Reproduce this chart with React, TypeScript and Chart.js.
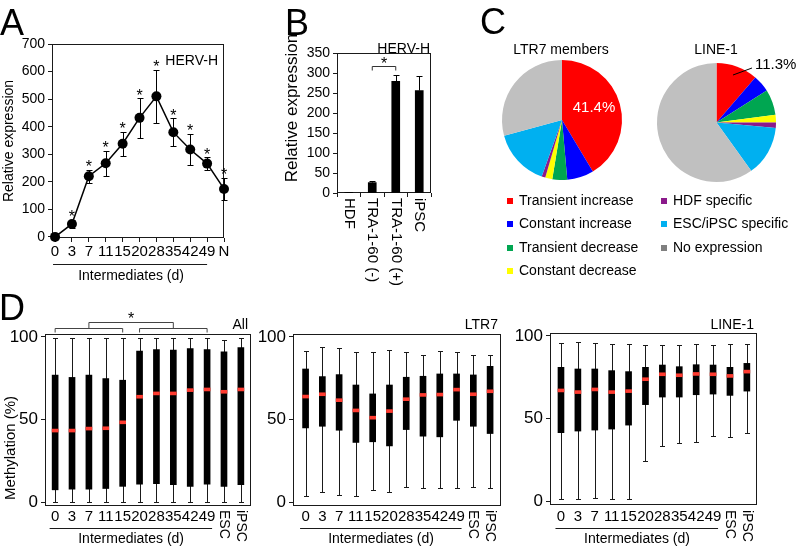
import React, { useEffect, useRef } from "react";
import { Chart, registerables } from "chart.js";

Chart.register(...registerables);

const FONT = "'Liberation Sans', Arial, Helvetica, sans-serif";
Chart.defaults.font.family = FONT;
Chart.defaults.color = "#000";

const W = 799;
const H = 549;
const INK = "#1a1a1a";

// ---------- Panel A: HERV-H over reprogramming ----------
const aLabels = ["0", "3", "7", "11", "15", "20", "28", "35", "42", "49", "N"];
const aValues = [0, 47, 220, 267, 338, 432, 510, 380, 317, 266, 174];
const aErrors = [0, 15, 24, 45, 44, 72, 96, 50, 57, 23, 40];
const aStars = [false, true, true, true, true, true, true, true, true, true, true];
const aYTicks = [0, 100, 200, 300, 400, 500, 600, 700];

// ---------- Panel B: sorted populations ----------
const bLabels = ["HDF", "TRA-1-60 (-)", "TRA-1-60 (+)", "iPSC"];
const bValues = [1, 26, 279, 256];
const bErrors = [0.5, 3, 17, 37];
const bYTicks = [0, 50, 100, 150, 200, 250, 300, 350];

// ---------- Panel C: pie charts ----------
const cCategories = [
  "Transient increase",
  "Constant increase",
  "Transient decrease",
  "Constant decrease",
  "HDF specific",
  "ESC/iPSC specific",
  "No expression",
];
const cColors = ["#ff0000", "#0000ff", "#00a651", "#ffff00", "#8b1a8b", "#00b0f0", "#c0c0c0"];
const cLegendColors = ["#ff0000", "#0000ff", "#00a651", "#ffff00", "#8b1a8b", "#00b0f0", "#808080"];
const ltr7Shares = [41.4, 7.2, 4.0, 1.9, 1.0, 15.3, 29.2];
const line1Shares = [11.3, 4.7, 6.9, 2.1, 1.5, 13.6, 59.9];

// ---------- Panel D: methylation box plots ----------
const dLabels = ["0", "3", "7", "11", "15", "20", "28", "35", "42", "49", "ESC", "iPSC"];
const dYTicks = [0, 50, 100];

const allMin = [0.3, 0.3, 0.3, 0.3, 0.3, 0.3, 0.3, 0.3, 0.3, 0.3, 0.3, 0.3];
const allQ1 = [7.4, 7.8, 7.8, 8.2, 9.5, 10.9, 11.1, 10.5, 9.5, 10.9, 9.5, 10.5];
const allMed = [43.3, 43.3, 44.5, 44.7, 48.3, 63.8, 65.8, 65.8, 67.8, 68.2, 66.8, 68.2];
const allQ3 = [76.9, 75.5, 76.9, 74.8, 73.8, 91.5, 92.4, 92.0, 93.0, 92.4, 91.0, 93.6];
const allMax = [99.4, 99.4, 99.4, 99.4, 99.4, 99.4, 99.4, 99.4, 99.4, 99.4, 98.4, 99.4];

const ltrMin = [3.8, 6.0, 4.4, 3.8, 7.0, 6.0, 9.0, 8.4, 8.4, 8.4, 9.4, 8.4];
const ltrQ1 = [44.9, 45.9, 43.5, 36.1, 36.5, 34.0, 43.9, 39.9, 39.5, 49.5, 45.9, 41.5];
const ltrMed = [63.9, 65.3, 61.7, 55.5, 51.1, 55.1, 62.3, 64.9, 65.1, 68.1, 65.3, 67.1];
const ltrQ3 = [80.6, 76.0, 77.2, 70.9, 65.5, 70.9, 75.6, 76.2, 77.6, 77.6, 77.0, 82.2];
const ltrMax = [91.6, 94.0, 93.6, 90.6, 90.6, 92.0, 91.0, 89.0, 91.6, 90.6, 89.0, 89.0];

const l1Min = [1.0, 1.4, 1.8, 1.4, 1.0, 24.0, 33.4, 35.4, 36.0, 39.4, 39.0, 41.0];
const l1Q1 = [41.4, 42.4, 43.0, 43.6, 46.0, 58.4, 63.0, 63.0, 64.4, 64.8, 64.0, 66.6];
const l1Med = [67.0, 66.0, 67.6, 66.0, 66.6, 73.8, 76.8, 76.2, 77.0, 76.8, 75.8, 78.4];
const l1Q3 = [81.0, 80.0, 80.0, 79.0, 78.4, 81.0, 82.4, 81.4, 82.6, 82.4, 81.0, 83.4];
const l1Max = [95.6, 96.4, 96.0, 95.0, 95.4, 94.6, 94.4, 94.6, 95.0, 94.6, 95.0, 95.4];

// ---------- helpers ----------
type Box = { L: number; T: number; R: number; B: number };
const pad = (b: Box, yW: number, xH: number) => ({
  left: b.L - yW,
  top: b.T,
  right: W - b.R,
  bottom: H - b.B - xH,
});
const snap = (v: number) => Math.round(v) + 0.5;

function text(ctx: any, s: string, x: number, y: number, size: number, o: any = {}) {
  ctx.save();
  ctx.font = `${size}px ${FONT}`;
  ctx.fillStyle = o.color ?? "#000";
  ctx.textAlign = o.align ?? "center";
  ctx.textBaseline = o.baseline ?? "middle";
  ctx.translate(x, y);
  if (o.rot) ctx.rotate(o.rot);
  ctx.fillText(s, 0, 0);
  ctx.restore();
}
function seg(ctx: any, pts: number[][], color = INK, w = 1) {
  ctx.save();
  ctx.strokeStyle = color;
  ctx.lineWidth = w;
  ctx.beginPath();
  pts.forEach(([x, y], i) => (i ? ctx.lineTo(x, y) : ctx.moveTo(x, y)));
  ctx.stroke();
  ctx.restore();
}
function frame(chart: any) {
  const { left, top, right, bottom } = chart.chartArea;
  const ctx = chart.ctx;
  ctx.save();
  ctx.strokeStyle = INK;
  ctx.lineWidth = 1;
  const l = Math.round(left), t = Math.round(top), r = Math.round(right), b = Math.round(bottom);
  ctx.strokeRect(l + 0.5, t + 0.5, r - l - 1, b - t - 1);
  ctx.restore();
}
const tickGrid = { display: true, drawOnChartArea: false, drawTicks: true, tickLength: 4, color: INK, lineWidth: 1 };
function yAxis(min: number, max: number, ticks: number[], size: number, yW: number) {
  return {
    type: "linear",
    min,
    max,
    afterBuildTicks: (s: any) => {
      s.ticks = ticks.map((v) => ({ value: v }));
    },
    afterFit: (s: any) => {
      s.width = yW;
    },
    grid: tickGrid,
    border: { display: false },
    ticks: { font: { size, family: FONT }, color: "#000", padding: 3 },
  };
}
const base = (padding: any) => ({
  responsive: false,
  maintainAspectRatio: false,
  animation: false,
  devicePixelRatio: 1,
  events: [],
  layout: { padding },
  plugins: { legend: { display: false }, tooltip: { enabled: false }, title: { display: false } },
});

// ---------- Panel A ----------
const A_BOX: Box = { L: 52, T: 44, R: 224, B: 238 };
function configA() {
  return {
    type: "line",
    data: {
      datasets: [
        {
          data: aValues.map((v, i) => ({ x: i, y: v })),
          borderColor: "#000",
          borderWidth: 1.5,
          pointRadius: 5,
          pointBackgroundColor: "#000",
          pointBorderColor: "#000",
          pointBorderWidth: 0,
          tension: 0,
          clip: false,
        },
      ],
    },
    options: {
      ...base(pad(A_BOX, 52, 30)),
      scales: {
        x: {
          type: "linear",
          min: -0.18,
          max: 10,
          offset: false,
          afterBuildTicks: (s: any) => {
            s.ticks = aLabels.map((_, i) => ({ value: i }));
          },
          afterFit: (s: any) => {
            s.height = 30;
          },
          grid: tickGrid,
          border: { display: false },
          ticks: {
            autoSkip: false,
            maxRotation: 0,
            minRotation: 0,
            padding: 1,
            font: { size: 15, family: FONT },
            color: "#000",
            callback: (v: any) => aLabels[v] ?? "",
          },
        },
        y: yAxis(-4, 700, aYTicks, 14, 52),
      },
    },
    plugins: [
      {
        id: "panelA",
        beforeDatasetsDraw(chart: any) {
          const { ctx } = chart;
          const x = chart.scales.x, y = chart.scales.y;
          frame(chart);
          aValues.forEach((v, i) => {
            const e = aErrors[i];
            if (!e) return;
            const px = snap(x.getPixelForValue(i));
            const t = snap(y.getPixelForValue(v + e)), b = snap(y.getPixelForValue(v - e));
            seg(ctx, [[px, t], [px, b]], "#000");
            seg(ctx, [[px - 3, t], [px + 3, t]], "#000");
            seg(ctx, [[px - 3, b], [px + 3, b]], "#000");
          });
        },
        afterDraw(chart: any) {
          const { ctx } = chart;
          const x = chart.scales.x, y = chart.scales.y;
          aValues.forEach((v, i) => {
            if (!aStars[i]) return;
            const t = y.getPixelForValue(v + aErrors[i]);
            text(ctx, "*", x.getPixelForValue(i), t + 2.5, 16, { baseline: "alphabetic" });
          });
          text(ctx, "HERV-H", 218, 61, 14, { align: "right" });
          const x0 = x.getPixelForValue(0), x9 = x.getPixelForValue(9);
          seg(ctx, [[x0 - 2, 264.5], [x9, 264.5]]);
          text(ctx, "Intermediates (d)", (x0 + x9) / 2, 276, 14);
          const ca = chart.chartArea;
          text(ctx, "Relative expression", 9, (ca.top + ca.bottom) / 2, 14, { rot: -Math.PI / 2 });
          text(ctx, "A", 0, 35, 36, { align: "left", baseline: "alphabetic" });
        },
      },
    ],
  };
}

// ---------- Panel B ----------
const B_BOX: Box = { L: 337, T: 53, R: 431, B: 193 };
function configB() {
  return {
    type: "bar",
    data: {
      labels: bLabels,
      datasets: [{ data: bValues, backgroundColor: "#000", barThickness: 8, borderWidth: 0 }],
    },
    options: {
      ...base(pad(B_BOX, 40, 8)),
      scales: {
        x: {
          type: "category",
          offset: true,
          grid: { ...tickGrid, offset: true },
          border: { display: false },
          ticks: { callback: () => "" },
          afterFit: (s: any) => {
            s.height = 8;
          },
        },
        y: yAxis(0, 350, bYTicks, 14, 40),
      },
    },
    plugins: [
      {
        id: "panelB",
        beforeDatasetsDraw(chart: any) {
          frame(chart);
        },
        afterDatasetsDraw(chart: any) {
          const { ctx } = chart;
          const x = chart.scales.x, y = chart.scales.y;
          bValues.forEach((v, i) => {
            const px = snap(x.getPixelForValue(i));
            const t = snap(y.getPixelForValue(v + bErrors[i]));
            const b = y.getPixelForValue(v);
            seg(ctx, [[px, t], [px, b]], "#000");
            seg(ctx, [[px - 3, t], [px + 3, t]], "#000");
          });
        },
        afterDraw(chart: any) {
          const { ctx } = chart;
          const x = chart.scales.x;
          const x1 = x.getPixelForValue(1), x2 = x.getPixelForValue(2);
          seg(ctx, [[x1, 70.5], [x1, 66.5], [x2, 66.5], [x2, 70.5]], "#333");
          text(ctx, "*", (x1 + x2) / 2, 69, 16, { baseline: "alphabetic" });
          text(ctx, "HERV-H", 430, 49, 14, { align: "right" });
          bLabels.forEach((s, i) => {
            text(ctx, s, x.getPixelForValue(i), 198, 15, { align: "left", rot: Math.PI / 2 });
          });
          text(ctx, "Relative expression", 292, 108, 17, { rot: -Math.PI / 2 });
          text(ctx, "B", 285, 35, 36, { align: "left", baseline: "alphabetic" });
        },
      },
    ],
  };
}

// ---------- Panel C ----------
const C1_BOX: Box = { L: 502, T: 60, R: 622, B: 180 };
const C2_BOX: Box = { L: 657, T: 63, R: 776, B: 182 };
function configPie(shares: number[], box: Box, plugin: any) {
  return {
    type: "pie",
    data: {
      labels: cCategories,
      datasets: [{ data: shares, backgroundColor: cColors, borderWidth: 0 }],
    },
    options: { ...base(pad(box, 0, 0)) },
    plugins: [plugin],
  };
}
const pie1Plugin = {
  id: "pie1",
  afterDraw(chart: any) {
    const { ctx } = chart;
    text(ctx, "LTR7 members", 561, 50, 14);
    text(ctx, "41.4%", 594, 108, 15, { color: "#fff" });
    const cols = [[0, 1, 2, 3], [4, 5, 6]];
    const colX = [507, 661];
    const rowY = [201, 224, 248, 271];
    cols.forEach((col, c) =>
      col.forEach((k, r) => {
        ctx.save();
        ctx.fillStyle = cLegendColors[k];
        ctx.fillRect(colX[c], rowY[r] - 3, 6, 6);
        ctx.restore();
        text(ctx, cCategories[k], colX[c] + 12, rowY[r], 14, { align: "left" });
      })
    );
    text(ctx, "C", 480, 34, 36, { align: "left", baseline: "alphabetic" });
  },
};
const pie2Plugin = {
  id: "pie2",
  afterDraw(chart: any) {
    const { ctx } = chart;
    text(ctx, "LINE-1", 716, 50, 14);
    seg(ctx, [[733, 75], [752, 68]], "#000");
    text(ctx, "11.3%", 755, 65, 15, { align: "left" });
  },
};

// ---------- Panel D ----------
const D1_BOX: Box = { L: 45, T: 334, R: 251, B: 506 };
const D2_BOX: Box = { L: 293, T: 334, R: 501, B: 506 };
const D3_BOX: Box = { L: 550, T: 333, R: 757, B: 505 };

function configBox(
  box: Box,
  xmin: number,
  xmax: number,
  mins: number[],
  q1: number[],
  med: number[],
  q3: number[],
  maxs: number[],
  yW: number,
  title: string,
  extra?: (chart: any) => void
) {
  return {
    type: "bar",
    data: {
      datasets: [
        {
          data: med.map((m, i) => ({ x: i, y: [m - 0.9, m + 0.9] })),
          backgroundColor: "#ff3b30",
          barThickness: 6,
          grouped: false,
          order: 0,
          borderWidth: 0,
        },
        {
          data: q1.map((v, i) => ({ x: i, y: [v, q3[i]] })),
          backgroundColor: "#000",
          barThickness: 6,
          grouped: false,
          order: 1,
          borderWidth: 0,
        },
      ],
    },
    options: {
      ...base(pad(box, yW, 0)),
      scales: {
        x: { type: "linear", min: xmin, max: xmax, offset: false, display: false },
        y: yAxis(-2.4, 101.8, dYTicks, 17, yW),
      },
    },
    plugins: [
      {
        id: "box-" + title,
        beforeDatasetsDraw(chart: any) {
          frame(chart);
          const { ctx } = chart;
          const x = chart.scales.x, y = chart.scales.y;
          mins.forEach((mn, i) => {
            const px = snap(x.getPixelForValue(i));
            const t = snap(y.getPixelForValue(maxs[i])), b = snap(y.getPixelForValue(mn));
            seg(ctx, [[px, t], [px, b]], INK);
            seg(ctx, [[px - 2.5, t], [px + 2.5, t]], INK);
            seg(ctx, [[px - 2.5, b], [px + 2.5, b]], INK);
          });
        },
        afterDraw(chart: any) {
          const { ctx } = chart;
          const x = chart.scales.x;
          const { right } = chart.chartArea;
          dLabels.forEach((s, i) => {
            const px = x.getPixelForValue(i);
            if (i < 10) text(ctx, s, px, 517, 15);
            else text(ctx, s, px, 510, 14, { align: "left", rot: Math.PI / 2 });
          });
          const x0 = x.getPixelForValue(0), x9 = x.getPixelForValue(9);
          seg(ctx, [[x0 - 5.5, 528.5], [x9 + 5, 528.5]]);
          text(ctx, "Intermediates (d)", (x0 + x9) / 2, 539, 14);
          text(ctx, title, right - 3, 325, 14, { align: "right" });
          if (extra) extra(chart);
        },
      },
    ],
  };
}

const dAllExtra = (chart: any) => {
  const { ctx } = chart;
  const x = chart.scales.x;
  const p = (i: number) => x.getPixelForValue(i);
  const c = "#444";
  seg(ctx, [[p(0), 332.5], [p(0), 328.5], [p(4), 328.5], [p(4), 332.5]], c);
  seg(ctx, [[p(5), 332.5], [p(5), 328.5], [p(9), 328.5], [p(9), 332.5]], c);
  seg(ctx, [[p(2), 328.5], [p(2), 322.5], [p(7), 322.5], [p(7), 328.5]], c);
  text(ctx, "*", (p(2) + p(7)) / 2, 324, 16, { baseline: "alphabetic" });
  text(ctx, "Methylation (%)", 11, 448, 15, { rot: -Math.PI / 2 });
  text(ctx, "D", -1, 320, 36, { align: "left", baseline: "alphabetic" });
};

const configD1 = () => configBox(D1_BOX, -0.6, 11.6, allMin, allQ1, allMed, allQ3, allMax, 45, "All", dAllExtra);
const configD2 = () => configBox(D2_BOX, -0.75, 11.65, ltrMin, ltrQ1, ltrMed, ltrQ3, ltrMax, 40, "LTR7");
const configD3 = () => configBox(D3_BOX, -0.65, 11.6, l1Min, l1Q1, l1Med, l1Q3, l1Max, 40, "LINE-1");

// ---------- React ----------
function ChartLayer({ make }: { make: () => any }) {
  const ref = useRef<HTMLCanvasElement | null>(null);
  useEffect(() => {
    const chart = new Chart(ref.current as HTMLCanvasElement, make());
    return () => chart.destroy();
  }, [make]);
  return (
    <canvas
      ref={ref}
      width={W}
      height={H}
      style={{ position: "absolute", left: 0, top: 0, width: W, height: H }}
    />
  );
}

const makers = [
  configA,
  configB,
  () => configPie(ltr7Shares, C1_BOX, pie1Plugin),
  () => configPie(line1Shares, C2_BOX, pie2Plugin),
  configD1,
  configD2,
  configD3,
];

export default function App() {
  return (
    <div
      style={{
        position: "fixed",
        left: 0,
        top: 0,
        width: W,
        height: H,
        background: "#fff",
        overflow: "hidden",
      }}
    >
      {makers.map((m, i) => (
        <ChartLayer key={i} make={m} />
      ))}
    </div>
  );
}
